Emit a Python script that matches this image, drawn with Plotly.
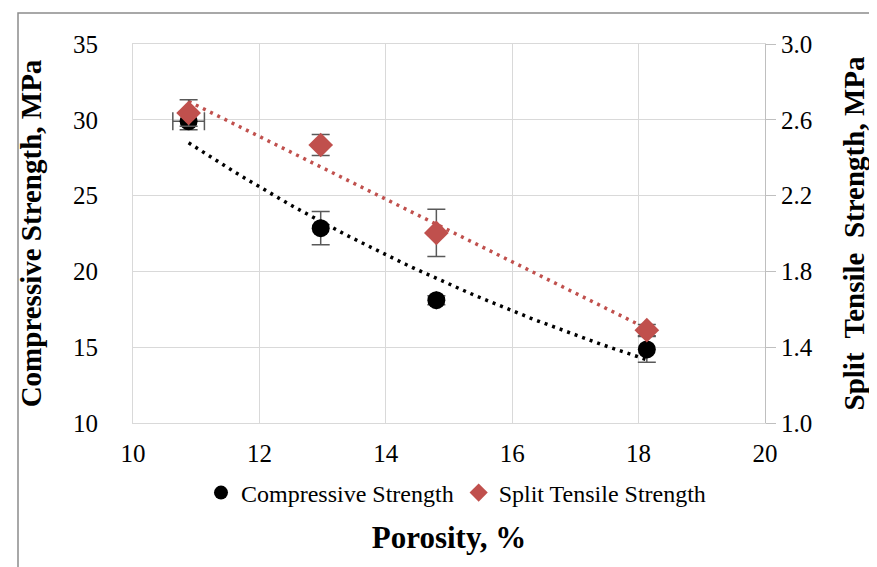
import numpy as np
import plotly.graph_objects as go

# Data
porosity = [10.88, 12.97, 14.80, 18.13]
compressive = [29.9, 22.85, 18.1, 14.85]
compressive_err_y = [0.55, 1.1, 0.3, 0.85]
compressive_err_x = [0.25, 0.0, 0.0, 0.0]
tensile = [2.636, 2.467, 2.003, 1.49]
tensile_err_y = [0.07, 0.055, 0.125, 0.03]

left_ticks = [10, 15, 20, 25, 30, 35]
right_ticks = [1.0, 1.4, 1.8, 2.2, 2.6, 3.0]
x_ticks = [10, 12, 14, 16, 18, 20]

RED = "#C0504D"
GRID = "#D9D9D9"
FONT = "Liberation Serif, Times New Roman, serif"

W, H = 877, 567
L, R, T, B = 125, 120, 36, 152
pw, ph = W - L - R, H - T - B

def px_to_paper_x(px):
    return (px - L) / pw

def px_to_paper_y(py):
    return (H - B - py) / ph

# Trendlines fitted from the data (exponential for compressive, linear for tensile)
xs = np.linspace(min(porosity), max(porosity), 60)
b_exp, a_exp = np.polyfit(porosity, np.log(compressive), 1)
comp_fit = np.exp(a_exp) * np.exp(b_exp * xs)
m_lin, c_lin = np.polyfit(porosity, tensile, 1)
tens_fit = m_lin * xs + c_lin

fig = go.Figure()

fig.add_trace(go.Scatter(
    x=xs, y=comp_fit, mode="lines", showlegend=False, hoverinfo="skip",
    line=dict(color="black", width=3.5, dash="3px,5px"), yaxis="y"))
fig.add_trace(go.Scatter(
    x=xs, y=tens_fit, mode="lines", showlegend=False, hoverinfo="skip",
    line=dict(color=RED, width=3.5, dash="3px,5px"), yaxis="y2"))

fig.add_trace(go.Scatter(
    x=porosity, y=compressive, mode="markers", name="Compressive Strength",
    legendgroup="c", showlegend=False,
    marker=dict(symbol="circle", size=18, color="black"),
    error_y=dict(type="data", array=compressive_err_y, color="#595959", thickness=1.5, width=9),
    error_x=dict(type="data", array=compressive_err_x, color="#595959", thickness=1.5, width=9),
    yaxis="y"))
fig.add_trace(go.Scatter(
    x=porosity, y=tensile, mode="markers", name="Split Tensile Strength",
    legendgroup="t", showlegend=False,
    marker=dict(symbol="diamond", size=19, color=RED),
    error_y=dict(type="data", array=tensile_err_y, color="#595959", thickness=1.5, width=9),
    yaxis="y2"))

# Legend entries (smaller legend symbols, as in the reference)
fig.add_trace(go.Scatter(
    x=[None], y=[None], mode="markers", name="Compressive Strength",
    legendgroup="c", marker=dict(symbol="circle", size=14, color="black")))
fig.add_trace(go.Scatter(
    x=[None], y=[None], mode="markers", name="Split Tensile Strength",
    legendgroup="t", marker=dict(symbol="diamond", size=14, color=RED)))

fig.update_layout(
    width=W, height=H,
    margin=dict(l=L, r=R, t=T, b=B, autoexpand=False),
    paper_bgcolor="white", plot_bgcolor="white",
    font=dict(family=FONT, color="#000000", size=25),
    xaxis=dict(
        range=[10, 20], tickvals=x_ticks, ticktext=[str(v) for v in x_ticks],
        showgrid=True, gridcolor=GRID, gridwidth=1,
        showline=True, linecolor=GRID, linewidth=1, mirror=True,
        ticks="outside", ticklen=8, tickcolor="rgba(0,0,0,0)",
        tickfont=dict(size=25, family=FONT), zeroline=False,
        title=dict(text="<b>Porosity, %</b>", font=dict(size=31, family=FONT), standoff=60),
    ),
    yaxis=dict(
        range=[10, 35], tickvals=left_ticks, ticktext=[str(v) for v in left_ticks],
        showgrid=True, gridcolor=GRID, gridwidth=1,
        showline=True, linecolor=GRID, linewidth=1,
        ticks="outside", ticklen=29, tickcolor="rgba(0,0,0,0)",
        tickfont=dict(size=25, family=FONT), zeroline=False,
        title=dict(text="<b>Compressive Strength, MPa</b>", font=dict(size=29, family=FONT), standoff=22),
    ),
    yaxis2=dict(
        range=[1.0, 3.0], tickvals=right_ticks, ticktext=[f"{v:.1f}" for v in right_ticks],
        overlaying="y", side="right", showgrid=False,
        showline=True, linecolor="#BFBFBF", linewidth=1,
        ticks="outside", ticklen=10, tickcolor="#BFBFBF",
        tickfont=dict(size=25, family=FONT), zeroline=False,
        title=dict(text="<b>Split  Tensile  Strength, MPa</b>", font=dict(size=29, family=FONT), standoff=31),
    ),
    legend=dict(
        orientation="h", x=px_to_paper_x(448), xanchor="center",
        y=px_to_paper_y(485), yanchor="middle",
        font=dict(size=24, family=FONT), bgcolor="rgba(0,0,0,0)",
        itemwidth=30, tracegroupgap=0,
    ),
    shapes=[dict(
        type="rect", xref="paper", yref="paper",
        x0=px_to_paper_x(10), x1=px_to_paper_x(876),
        y0=px_to_paper_y(575), y1=px_to_paper_y(5),
        line=dict(color="#8C8C8C", width=1.5), layer="below")],
)

fig.write_html("out.html")
